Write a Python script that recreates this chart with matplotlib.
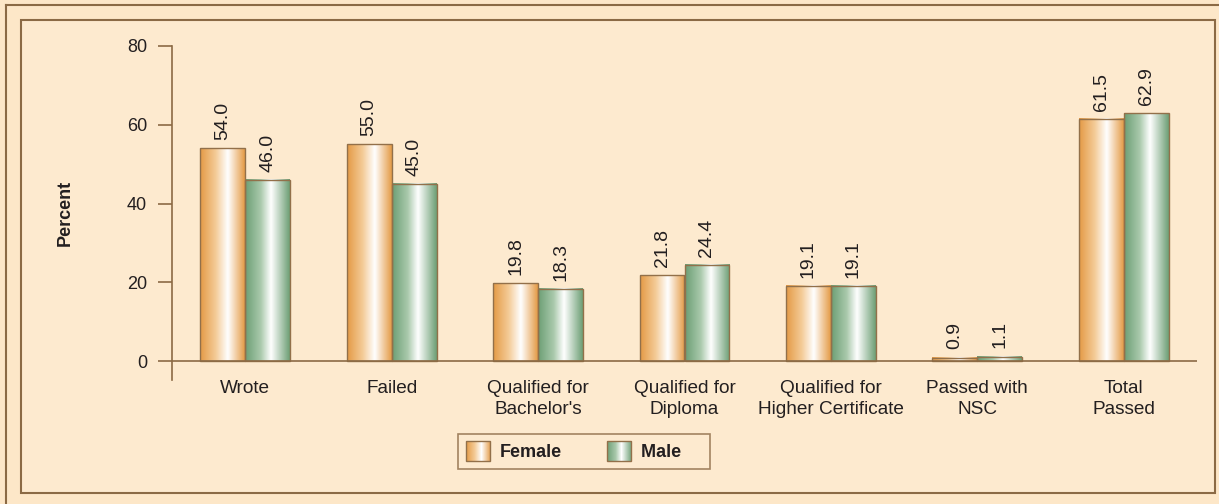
import numpy as np
import matplotlib
matplotlib.use("Agg")
import matplotlib.pyplot as plt
from matplotlib.patches import Rectangle
from matplotlib.lines import Line2D
from matplotlib.image import BboxImage
from matplotlib.transforms import Bbox, TransformedBbox
from matplotlib.colors import LinearSegmentedColormap
from matplotlib.legend_handler import HandlerBase

categories = ["Wrote", "Failed", "Qualified for\nBachelor's", "Qualified for\nDiploma",
              "Qualified for\nHigher Certificate", "Passed with\nNSC", "Total\nPassed"]
female = [54.0, 55.0, 19.8, 21.8, 19.1, 0.9, 61.5]
male = [46.0, 45.0, 18.3, 24.4, 19.1, 1.1, 62.9]
yticks = [0, 20, 40, 60, 80]
series_names = ["Female", "Male"]

plt.rcParams['font.family'] = ['Liberation Sans', 'DejaVu Sans']

bg = "#FDEACF"
edge = "#8B6A45"
txt = "#231F20"

# gradient colormaps: dark edge -> white highlight -> dark edge
cmap_f = LinearSegmentedColormap.from_list("f", [(0, "#E49A45"), (0.35, "#F4CB97"),
                                                 (0.62, "#FFFFFF"), (1, "#E49A45")])
cmap_m = LinearSegmentedColormap.from_list("m", [(0, "#6C9E74"), (0.35, "#A9C9AC"),
                                                 (0.58, "#FFFFFF"), (1, "#6C9E74")])
grad = np.linspace(0, 1, 256).reshape(1, -1)

fig = plt.figure(figsize=(12.19, 5.04), dpi=100, facecolor="#FDE7C8")

# frames
fig.add_artist(Line2D([6/1219, 6/1219], [0, 1 - 5/504], transform=fig.transFigure, color=edge, lw=1.5))
fig.add_artist(Line2D([6/1219, 1], [1 - 5/504, 1 - 5/504], transform=fig.transFigure, color=edge, lw=1.5))
fig.add_artist(Rectangle((21/1219, 1 - 493/504), (1215 - 21)/1219, (493 - 20)/504,
                         transform=fig.transFigure, facecolor=bg, edgecolor=edge, lw=1.5, zorder=0))

ax = fig.add_axes([172/1219, 1 - 380/504, (1197 - 172)/1219, (380 - 46)/504])
ax.set_facecolor("none")

x = np.arange(len(categories))
w = 0.307

def grad_bars(xs, vals, cmap):
    bars = ax.bar(xs, vals, width=w, facecolor="none", edgecolor="#92704A", linewidth=1.0, zorder=3)
    for b in bars:
        x0, x1 = b.get_x(), b.get_x() + b.get_width()
        ax.imshow(grad, cmap=cmap, extent=(x0, x1, 0, b.get_height()), aspect="auto",
                  interpolation="bicubic", zorder=2)
    return bars

bf = grad_bars(x - w/2, female, cmap_f)
bm = grad_bars(x + w/2, male, cmap_m)

for xs, vals in ((x - w/2, female), (x + w/2, male)):
    for xi, v in zip(xs, vals):
        ax.annotate(f"{v:.1f}", (xi, v), xytext=(0, 6), textcoords="offset points",
                    rotation=90, ha="center", va="bottom", fontsize=14, color=txt)

ax.set_xlim(-0.5, len(categories) - 0.5)
ax.set_ylim(-4.8, 80)
ax.axhline(0, color=edge, lw=1.2, zorder=4)
ax.set_yticks(yticks)
ax.set_xticks(x)
ax.set_xticklabels(categories, fontsize=13.7, color=txt, linespacing=1.3)
ax.tick_params(axis="x", length=0, pad=0)
ax.tick_params(axis="y", length=10, width=1.2, color=edge, labelsize=13, labelcolor=txt, pad=8)
for s in ("top", "right", "bottom"):
    ax.spines[s].set_visible(False)
ax.spines["left"].set_color(edge)
ax.spines["left"].set_linewidth(1.2)
ax.spines["left"].set_bounds(-4.8, 80)
ax.set_ylabel("Percent", fontsize=13, fontweight="bold", color=txt, labelpad=38)


class GradHandler(HandlerBase):
    def __init__(self, cmap):
        super().__init__()
        self.cmap = cmap

    def create_artists(self, legend, orig_handle, xdescent, ydescent, width, height, fontsize, trans):
        h = height * 1.1
        y0 = -ydescent - (h - height) / 2
        bb = TransformedBbox(Bbox([[-xdescent, y0], [-xdescent + width, y0 + h]]), trans)
        img = BboxImage(bb, cmap=self.cmap, interpolation="bicubic")
        img.set_data(grad)
        r = Rectangle((-xdescent, y0), width, h, facecolor="none", edgecolor="#92704A", lw=1.0,
                      transform=trans)
        return [img, r]


hf = Rectangle((0, 0), 1, 1)
hm = Rectangle((0, 0), 1, 1)
leg = fig.legend([hf, hm], [series_names[0], series_names[1] + "    "], loc="center left",
                 bbox_to_anchor=(458/1219, 1 - 451.5/504),
                 ncol=2, frameon=True, fancybox=False, handler_map={hf: GradHandler(cmap_f), hm: GradHandler(cmap_m)},
                 prop={"weight": "bold", "size": 13}, handlelength=1.33, handleheight=1.15,
                 handletextpad=0.55, columnspacing=2.5, borderpad=0.45, borderaxespad=0)
leg.get_frame().set_facecolor(bg)
leg.get_frame().set_edgecolor(edge)
leg.get_frame().set_linewidth(1.2)
for t in leg.get_texts():
    t.set_color(txt)

fig.savefig("out.png", dpi=100, facecolor=fig.get_facecolor())
